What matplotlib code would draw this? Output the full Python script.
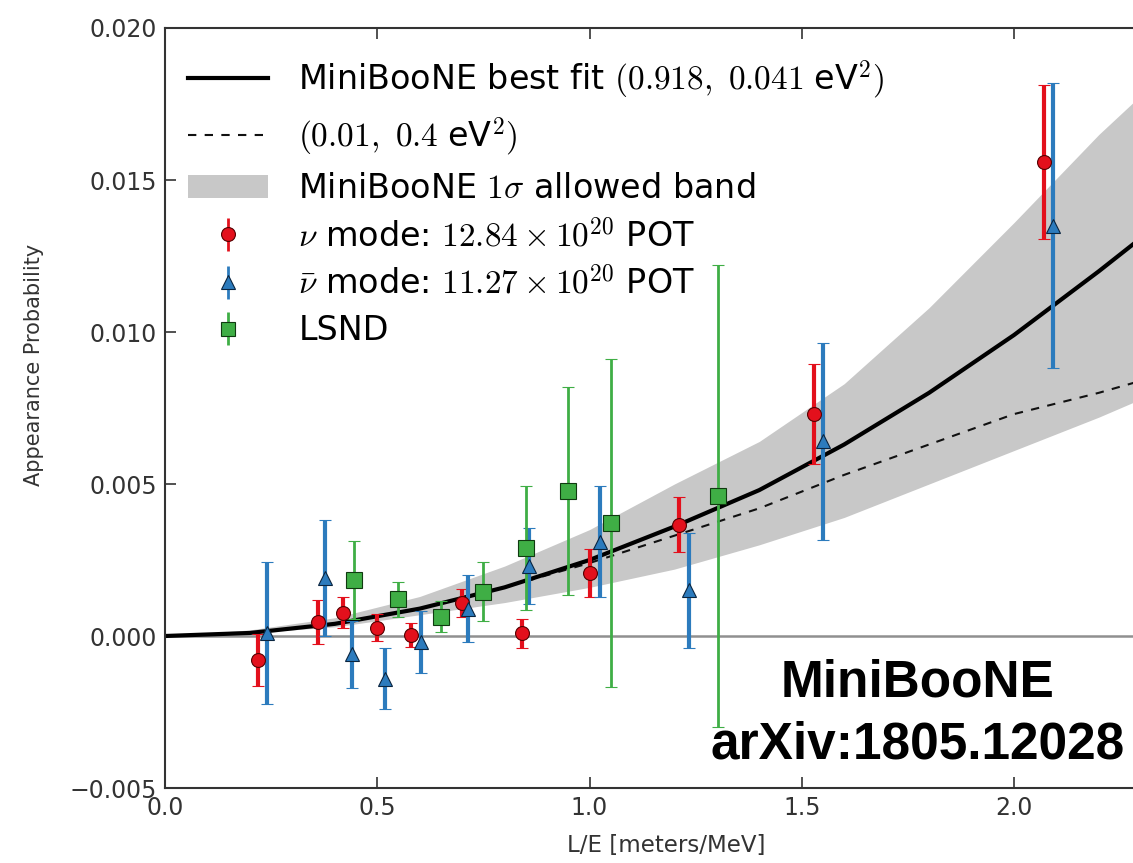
import numpy as np
import matplotlib
matplotlib.use('Agg')
import matplotlib.pyplot as plt
from matplotlib.patches import Patch
from matplotlib.lines import Line2D

plt.rcParams['mathtext.fontset'] = 'cm'
plt.rcParams['font.family'] = ['DejaVu Sans']

# MiniBooNE nu mode (red circles)
nu_x = [0.22, 0.36, 0.42, 0.50, 0.58, 0.70, 0.84, 1.00, 1.21, 1.53, 2.07]
nu_y = [-0.0008, 0.00047, 0.00077, 0.00027, 0.00003, 0.00108, 0.00009, 0.00207, 0.00366, 0.0073, 0.0156]
nu_err = [0.00085, 0.00072, 0.0005, 0.00045, 0.0004, 0.00047, 0.00048, 0.0008, 0.0009, 0.00165, 0.00254]

# MiniBooNE antinu mode (blue triangles)
nubar_x = [0.24, 0.377, 0.44, 0.518, 0.604, 0.714, 0.857, 1.024, 1.235, 1.551, 2.093]
nubar_y = [0.0001, 0.0019, -0.0006, -0.0014, -0.0002, 0.0009, 0.0023, 0.0031, 0.0015, 0.0064, 0.0135]
nubar_err = [0.00234, 0.0019, 0.0011, 0.001, 0.00103, 0.0011, 0.00126, 0.00182, 0.0019, 0.00324, 0.0047]

# LSND (green squares)
lsnd_x = [0.446, 0.55, 0.65, 0.75, 0.85, 0.95, 1.05, 1.303]
lsnd_y = [0.00184, 0.00121, 0.00064, 0.00146, 0.0029, 0.00477, 0.00372, 0.0046]
lsnd_err = [0.00127, 0.00058, 0.0005, 0.00097, 0.00204, 0.00343, 0.00539, 0.0076]

# curves and band
curve_x = [0.0, 0.2, 0.4, 0.6, 0.8, 1.0, 1.2, 1.4, 1.6, 1.8, 2.0, 2.2, 2.3]
best_fit = [0.0, 0.0001, 0.0004, 0.0009, 0.0016, 0.0025, 0.0036, 0.0048, 0.0063, 0.0080, 0.0099, 0.0120, 0.0131]
alt_fit = [0.0, 0.0001, 0.0004, 0.0009, 0.0016, 0.0024, 0.0033, 0.0042, 0.0053, 0.0063, 0.0073, 0.0080, 0.0084]
band_hi = [0.0, 0.0002, 0.0006, 0.0013, 0.0023, 0.0035, 0.0050, 0.0064, 0.0083, 0.0108, 0.0136, 0.0165, 0.0178]
band_lo = [0.0, 0.0001, 0.0003, 0.0007, 0.0011, 0.0016, 0.0022, 0.0030, 0.0039, 0.0050, 0.0061, 0.0072, 0.0078]

red = '#e3101c'
blue = '#2c7bbd'
green = '#3fae45'

fig = plt.figure(figsize=(11.33, 8.63), dpi=100)
ax = fig.add_axes([165 / 1133, 1 - 788 / 863, 1 - 165 / 1133, (788 - 28) / 863])

ax.fill_between(curve_x, band_lo, band_hi, color='#c8c8c8', lw=0, zorder=1)
ax.axhline(0, color='#909090', lw=1.8, zorder=1.5)
ax.plot(curve_x, alt_fit, '--', color='#111111', lw=1.5, dashes=(4, 4), zorder=2)
ax.plot(curve_x, best_fit, '-', color='black', lw=3, zorder=2.1)

ax.errorbar(nu_x, nu_y, yerr=nu_err, fmt='o', color=red, ecolor=red, mec='#550000', mew=0.8,
            ms=10, elinewidth=3, capsize=4, capthick=1.5, zorder=3)
ax.errorbar(nubar_x, nubar_y, yerr=nubar_err, fmt='^', color=blue, ecolor=blue, mec='#0a2540', mew=0.8,
            ms=10, elinewidth=3, capsize=4, capthick=1.5, zorder=3)
ax.errorbar(lsnd_x, lsnd_y, yerr=lsnd_err, fmt='s', color=green, ecolor=green, mec='#103a10', mew=0.8,
            ms=11, elinewidth=2, capsize=4, capthick=1.5, zorder=3)

ax.set_xlim(0, 968 / 424.5)
ax.set_ylim(-0.005, 0.020)
ax.set_xticks([0.0, 0.5, 1.0, 1.5, 2.0])
ax.set_yticks([-0.005, 0.0, 0.005, 0.010, 0.015, 0.020])
ax.tick_params(direction='in', length=8, width=1.2, top=True, labelsize=17, colors='#333333', pad=6)
for s in ['left', 'bottom', 'top']:
    ax.spines[s].set_color('#333333')
    ax.spines[s].set_linewidth(1.5)
ax.spines['right'].set_visible(False)

ax.set_xlabel('L/E [meters/MeV]', fontsize=16.5, color='#333333')
ax.xaxis.set_label_coords((666 - 165) / 968, -(834 - 788) / 760)
ax.set_ylabel('Appearance Probability', fontsize=15, color='#333333')
ax.yaxis.set_label_coords(-(165 - 44) / 968, (788 - 365) / 760)

# legend
handles = [
    Line2D([], [], color='black', lw=3),
    Line2D([], [], color='#111111', lw=1.5, ls='--', dashes=(4, 4)),
    Patch(color='#c8c8c8', lw=0),
    ax.errorbar([], [], yerr=[], fmt='o', color=red, mec='#550000', mew=0.8, ms=10, elinewidth=2, capsize=4),
    ax.errorbar([], [], yerr=[], fmt='^', color=blue, mec='#0a2540', mew=0.8, ms=10, elinewidth=2, capsize=4),
    ax.errorbar([], [], yerr=[], fmt='s', color=green, mec='#103a10', mew=0.8, ms=10, elinewidth=2, capsize=4),
]
labels = [
    r'MiniBooNE best fit $(0.918,\ 0.041\ $eV$^2)$',
    r'$(0.01,\ 0.4\ $eV$^2)$',
    r'MiniBooNE $\mathbf{1}\sigma$ allowed band',
    r'$\nu$ mode: $12.84\times10^{20}$ POT',
    r'$\bar{\nu}$ mode: $11.27\times10^{20}$ POT',
    'LSND',
]
ax.legend(handles, labels, loc='upper left', bbox_to_anchor=(0.0, 0.99), frameon=False,
          fontsize=24, handlelength=2.4, handletextpad=0.9, labelspacing=0.4, borderaxespad=0.3)

fig.text(918 / 1133, 1 - 683 / 863, 'MiniBooNE', ha='center', va='center', fontsize=37,
         fontweight='bold', family='Liberation Sans')
fig.text(918 / 1133, 1 - 745 / 863, 'arXiv:1805.12028', ha='center', va='center', fontsize=37,
         fontweight='bold', family='Liberation Sans')

fig.savefig('out.png', dpi=100)
